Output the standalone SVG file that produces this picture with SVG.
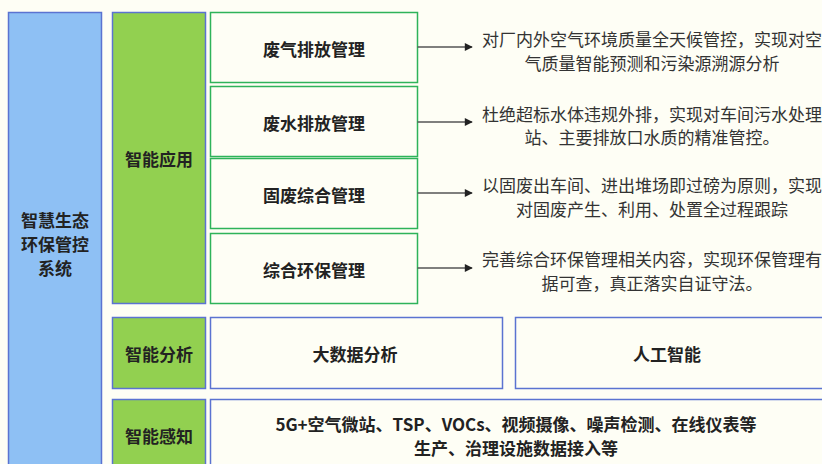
<svg xmlns="http://www.w3.org/2000/svg" width="822" height="464" viewBox="0 0 822 464">
<defs>
<style>
.bg{fill:#fefef5}
.sys{fill:#8ec0f4;stroke:#5b73d1;stroke-width:1.5}
.cat{fill:#92d050;stroke:#5b73d1;stroke-width:1.5}
.app{fill:#fefef5;stroke:#2eb35a;stroke-width:1.5}
.blk{fill:#fefef5;stroke:#5b73d1;stroke-width:1.5}
.t{font-family:"Noto Sans CJK SC","Microsoft YaHei",sans-serif;font-size:17px;font-weight:bold;fill:#222;text-anchor:middle;dominant-baseline:central}
.d{font-family:"Noto Sans CJK SC","Microsoft YaHei",sans-serif;font-size:17px;fill:#333;text-anchor:middle;dominant-baseline:central}
.c{stroke:#555;stroke-width:1.5;fill:none;marker-end:url(#ah)}
</style>
<marker id="ah" viewBox="0 0 10 10" refX="9" refY="5" markerWidth="10" markerHeight="8" markerUnits="userSpaceOnUse" orient="auto">
<path d="M0,0 L10,5 L0,10 z" fill="#222"/>
</marker>
</defs>
<rect class="bg" x="0" y="0" width="822" height="464"/>
<g id="system">
<rect class="sys" x="8.5" y="12.5" width="93" height="470"/>
<text class="t" x="55" y="219">智慧生态</text>
<text class="t" x="55" y="243">环保管控</text>
<text class="t" x="55" y="267">系统</text>
</g>
<g id="cat-app">
<rect class="cat" x="112.5" y="12.5" width="93" height="291"/>
<text class="t" x="159" y="158">智能应用</text>
</g>
<g id="app-air">
<rect class="app" x="210.5" y="12.5" width="207" height="70"/>
<text class="t" x="314" y="48">废气排放管理</text>
</g>
<g id="app-water">
<rect class="app" x="210.5" y="86.5" width="207" height="70"/>
<text class="t" x="314" y="122">废水排放管理</text>
</g>
<g id="app-solid">
<rect class="app" x="210.5" y="158.5" width="207" height="70"/>
<text class="t" x="314" y="194">固废综合管理</text>
</g>
<g id="app-env">
<rect class="app" x="210.5" y="233.5" width="207" height="70"/>
<text class="t" x="314" y="269">综合环保管理</text>
</g>
<g id="desc-air">
<text class="d" x="652" y="38">对厂内外空气环境质量全天候管控，实现对空</text>
<text class="d" x="652" y="62">气质量智能预测和污染源溯源分析</text>
</g>
<g id="desc-water">
<text class="d" x="652" y="113">杜绝超标水体违规外排，实现对车间污水处理</text>
<text class="d" x="652" y="136">站、主要排放口水质的精准管控。</text>
</g>
<g id="desc-solid">
<text class="d" x="652" y="184">以固废出车间、进出堆场即过磅为原则，实现</text>
<text class="d" x="652" y="208">对固废产生、利用、处置全过程跟踪</text>
</g>
<g id="desc-env">
<text class="d" x="652" y="258">完善综合环保管理相关内容，实现环保管理有</text>
<text class="d" x="652" y="282">据可查，真正落实自证守法。</text>
</g>
<g id="cat-analysis">
<rect class="cat" x="112.5" y="317.5" width="93" height="71"/>
<text class="t" x="159" y="353">智能分析</text>
</g>
<g id="bigdata">
<rect class="blk" x="210.5" y="317.5" width="292" height="71"/>
<text class="t" x="355" y="353">大数据分析</text>
</g>
<g id="ai">
<rect class="blk" x="515.5" y="317.5" width="320" height="71"/>
<text class="t" x="667" y="353">人工智能</text>
</g>
<g id="cat-sense">
<rect class="cat" x="112.5" y="399.5" width="93" height="72"/>
<text class="t" x="159" y="435">智能感知</text>
</g>
<g id="sense">
<rect class="blk" x="210.5" y="399.5" width="625" height="72"/>
<text class="t" x="516" y="423">5G+空气微站、TSP、VOCs、视频摄像、噪声检测、在线仪表等</text>
<text class="t" x="516" y="447">生产、治理设施数据接入等</text>
</g>
<g id="connectors">
<line class="c" x1="417.5" y1="47" x2="472" y2="47"/>
<line class="c" x1="417.5" y1="122" x2="472" y2="122"/>
<line class="c" x1="417.5" y1="193" x2="472" y2="193"/>
<line class="c" x1="417.5" y1="268" x2="472" y2="268"/>
</g>
</svg>
